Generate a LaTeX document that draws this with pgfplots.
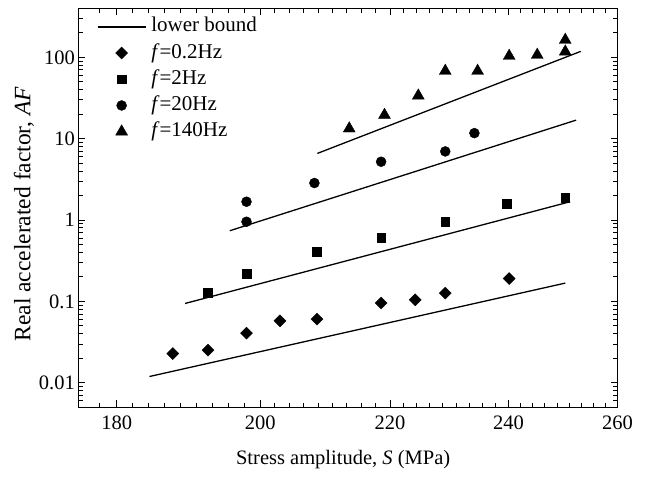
\documentclass[border=0pt]{standalone}
\usepackage{fontspec}
\setmainfont{Liberation Serif}
\usepackage{pgfplots}
\pgfplotsset{compat=1.18}
\newcommand{\fs}{\fontsize{20.5bp}{24bp}\selectfont}
\begin{document}
\begin{tikzpicture}
\begin{axis}[name=ax, scale only axis, width=539.2bp, height=399bp,
 xmode=log, ymode=log, xmin=175, xmax=260, ymin=0.005, ymax=400,
 xtick={180,200,220,240,260}, xticklabels={180,200,220,240,260},
 minor xtick={177.7,182.12,184.26,186.43,188.63,190.85,193.10,195.37,197.67,
   202.13,204.28,206.46,208.65,210.88,213.12,215.39,217.68,
   222.14,224.30,226.47,228.67,230.90,233.14,235.40,237.70,
   242.14,244.31,246.49,248.69,250.91,253.15,255.42,257.70},
 ytick={0.01,0.1,1,10,100}, yticklabels={0.01,0.1,1,10,100},
 minor ytick={0.005,0.006,0.007,0.008,0.009,0.02,0.03,0.04,0.05,0.06,0.07,0.08,0.09,
   0.2,0.3,0.4,0.5,0.6,0.7,0.8,0.9,2,3,4,5,6,7,8,9,20,30,40,50,60,70,80,90,200,300,400},
 tick align=inside, tick pos=both,
 major tick length=7bp, minor tick length=4.5bp,
 every tick/.style={black, line width=0.9bp},
 axis line style={line width=1.2bp},
 tick label style={font=\fs},
 xticklabel style={yshift=-5bp},
 label style={font=\fs},
 xlabel={Stress amplitude, \textit{S} (MPa)},
 ylabel={Real accelerated factor, \textit{AF}},
 xlabel style={at={(axis description cs:0.491,0)}, anchor=center, yshift=-52bp},
 ylabel style={at={(axis description cs:-0.101,0.4845)}, anchor=center, font=\fontsize{23.5bp}{28bp}\selectfont},
 legend style={at={(axis description cs:0.0341,0.983)}, anchor=north west, draw=none, fill=none,
   inner sep=0pt, font=\fontsize{21bp}{25bp}\selectfont, row sep=3bp, column sep=3bp,
   nodes={inner xsep=2bp, inner ysep=1.6bp, text height=15bp, text depth=5bp}},
 legend cell align=left,
 legend image code/.code={\draw[mark repeat=2,mark phase=2] plot coordinates {(0bp,0bp) (24bp,0bp) (48bp,0bp)};},
]
\addplot[black, line width=1.3bp, no marks] coordinates {(184.36,0.01195) (250.2,0.168)};
\addlegendentry{lower bound}
\addplot[only marks, mark=diamond*, mark size=6bp, mark options={xscale=1.333, fill=black, draw=black}] coordinates {
(187.55,0.0229) (192.5,0.0252) (198.0,0.0408) (202.9,0.0578) (208.5,0.0607) (218.55,0.0955) (224.1,0.1048) (229.1,0.1267) (240.1,0.191)};
\addlegendentry{\textit{f}=0.2Hz}
\addplot[only marks, mark=square*, mark size=4.4bp, mark options={fill=black, draw=black}] coordinates {
(192.5,0.1267) (198.0,0.221) (208.5,0.408) (218.55,0.611) (229.1,0.962) (239.6,1.60) (250.2,1.90)};
\addlegendentry{\textit{f}=2Hz}
\addplot[only marks, mark=*, mark size=5bp, mark options={fill=black, draw=black}] coordinates {
(198.0,0.953) (198.0,1.68) (208.1,2.85) (218.55,5.21) (229.1,6.97) (234.05,11.7)};
\addlegendentry{\textit{f}=20Hz}
\addplot[only marks, mark=triangle*, mark size=6.9bp, mark options={fill=black, draw=black}] coordinates {
(213.5,13.3) (219.1,19.5) (224.6,33.7) (229.1,67.8) (234.6,67.8) (240.1,103.6) (245.1,106.7) (250.2,117) (250.2,163)};
\addlegendentry{\textit{f}=140Hz}
\addplot[black, line width=1.3bp, no marks, forget plot] coordinates {(189.26,0.0944) (251.1,1.68)};
\addplot[black, line width=1.3bp, no marks, forget plot] coordinates {(195.6,0.739) (252.2,16.9)};
\addplot[black, line width=1.3bp, no marks, forget plot] coordinates {(208.56,6.59) (253.06,118.2)};
\end{axis}
\pgfresetboundingbox
\useasboundingbox ([xshift=-78.3bp,yshift=-69.7bp]ax.south west) rectangle ([xshift=30.5bp,yshift=8.3bp]ax.north east);
\end{tikzpicture}
\end{document}
